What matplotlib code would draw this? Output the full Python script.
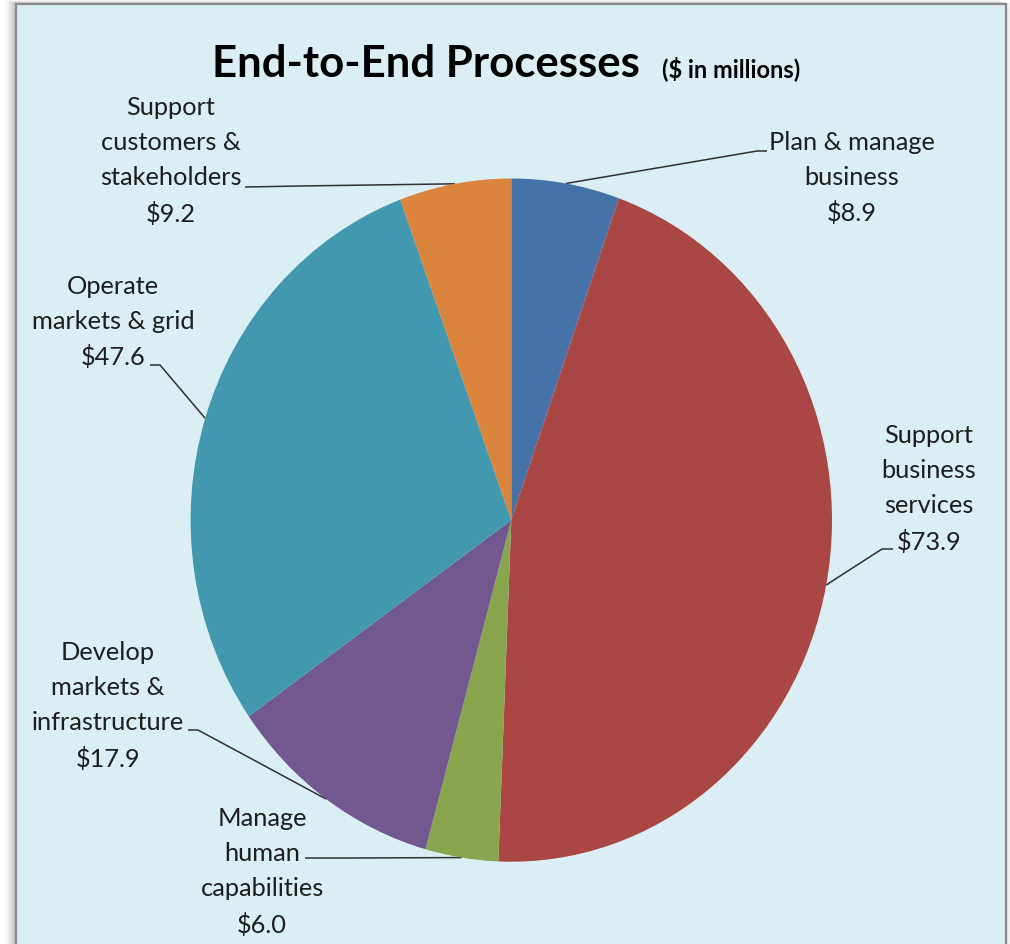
#!/usr/bin/env python

import numpy as np
import matplotlib.pyplot as plt
from matplotlib.patches import Rectangle

labels = ['Plan & manage\nbusiness',
          'Support\nbusiness\nservices',
          'Manage\nhuman\ncapabilities',
          'Develop\nmarkets &\ninfrastructure',
          'Operate\nmarkets & grid',
          'Support\ncustomers &\nstakeholders']
values = [8.9, 73.9, 6.0, 17.9, 47.6, 9.2]
colors = ['#4572A7', '#AA4643', '#89A54E', '#71588F', '#4198AF', '#DB843D']

# label block centre and leader line path (pixels)
lab_xy = [(852, 178), (929, 489), (262, 872), (108, 706), (113, 322), (171, 161)]
lead = [[(767, 152), (757, 152)],
        [(893, 550), (882, 550)],
        [(305, 859), (350, 859)],
        [(188, 731), (198, 731)],
        [(150, 366), (160, 366)],
        [(245, 188), (300, 187)]]

W, H = 1010, 945
cx, cy, rx, ry = 511.3, 521.1, 320.7, 341.6

plt.rcParams['font.family'] = ['Lato', 'DejaVu Sans']

fig = plt.figure(figsize=(W / 100, H / 100), dpi=100, facecolor='white')
ax = fig.add_axes([0, 0, 1, 1])
ax.set_xlim(0, W)
ax.set_ylim(H, 0)
ax.axis('off')

# shadow + frame
for i in range(14):
  a = 0.035 * (1 - i / 14.0)
  ax.add_patch(Rectangle((15 - i, 4 - i * 0.3), 995, 960, facecolor='black',
                         edgecolor='none', alpha=a, zorder=0))
ax.add_patch(Rectangle((16, 5), 990, 960, facecolor='#DAEEF3',
                       edgecolor='#8A8A8A', lw=1.6, zorder=1))

# pie in its own axes, stretched to an ellipse
pax = fig.add_axes([(cx - rx) / W, (H - cy - ry) / H, 2 * rx / W, 2 * ry / H])
pax.pie(values, colors=colors, startangle=90, counterclock=False,
        radius=1, wedgeprops=dict(linewidth=0, edgecolor='none'))
pax.set_aspect('auto')
pax.set_xlim(-1, 1)
pax.set_ylim(-1, 1)
pax.axis('off')

tot = float(sum(values))
cum = np.cumsum(values) - np.array(values) / 2.0
ang = np.radians(90 - cum / tot * 360)

for i in range(len(values)):
  txt = labels[i] + '\n$' + '{:.1f}'.format(values[i])
  ax.text(lab_xy[i][0], lab_xy[i][1], txt, ha='center', va='center',
          fontsize=18.3, color='#1e1e1e', linespacing=1.63, parse_math=False,
          zorder=5)
  px = cx + rx * np.cos(ang[i])
  py = cy - ry * np.sin(ang[i])
  pts = lead[i] + [(px, py)]
  ax.plot([p[0] for p in pts], [p[1] for p in pts], color='#303030', lw=1.1,
          zorder=4, solid_capstyle='butt')

ax.text(426, 77, 'End-to-End Processes', ha='center', va='baseline',
        fontsize=31.5, fontweight='bold', color='black', zorder=5)
ax.text(662, 77, '($ in millions)', ha='left', va='baseline',
        fontsize=17, fontweight='bold', color='black', parse_math=False, zorder=5)

plt.savefig('out.png', dpi=100, facecolor='white')
